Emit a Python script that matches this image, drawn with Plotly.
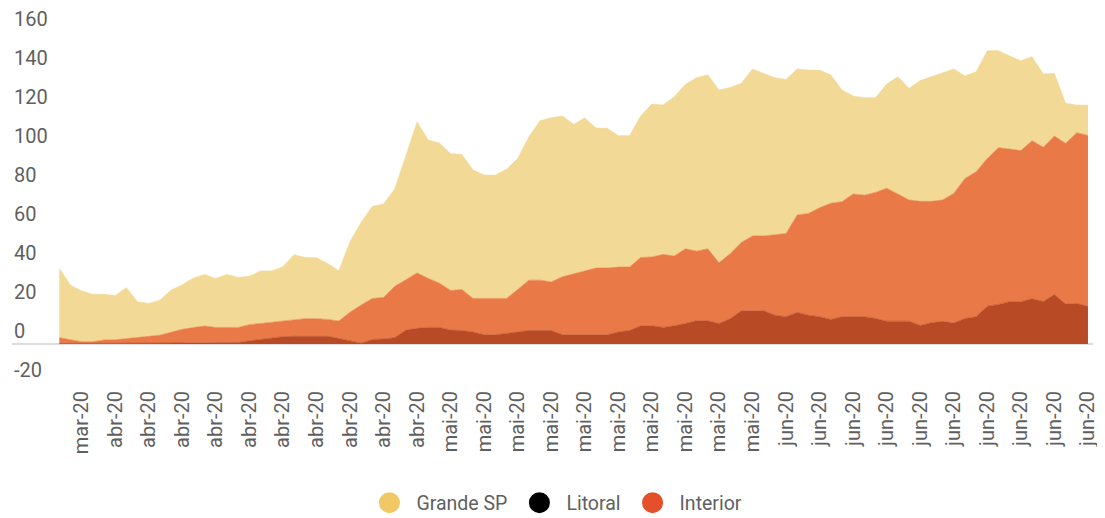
import pandas as pd
import plotly.graph_objects as go

# ---- data (daily values, 29 Mar 2020 -> 29 Jun 2020) ----
start_date = "2020-03-29"
n_days = 93

litoral = [0.3, 0.3, 0.3, 0.3, 0.3, 0.3, 0.3, 0.3, 0.4, 0.4,
           0.5, 0.6, 0.7, 0.7, 0.7, 0.7, 0.8, 1.7, 2.4, 3.0,
           3.8, 4.0, 4.0, 4.0, 4.0, 2.9, 1.5, 0.5, 2.4, 2.6,
           3.3, 7.2, 8.1, 8.6, 8.6, 7.2, 7.0, 6.2, 4.8, 4.8,
           5.5, 6.3, 7.0, 7.0, 7.0, 4.8, 4.8, 4.8, 4.8, 4.8,
           6.2, 7.0, 9.4, 9.4, 8.6, 9.4, 10.6, 12.0, 12.0, 10.6,
           13.0, 17.1, 17.1, 17.1, 14.9, 14.1, 16.3, 14.9, 14.1, 12.7,
           14.1, 14.1, 14.1, 13.2, 11.8, 11.8, 11.8, 9.6, 11.0, 11.7,
           10.8, 13.2, 14.1, 19.5, 20.4, 21.8, 21.8, 23.3, 21.9, 25.5,
           20.6, 20.9, 19.5]

interior = [3.0, 2.1, 0.9, 0.9, 1.8, 1.9, 2.6, 3.3, 3.6, 4.2,
            5.8, 7.0, 7.8, 8.6, 7.9, 7.9, 7.8, 8.3, 8.2, 8.0,
            7.8, 8.3, 9.1, 9.1, 8.7, 9.0, 14.9, 19.6, 21.1, 21.4,
            26.4, 25.9, 28.5, 25.2, 22.7, 20.4, 21.1, 17.3, 18.7, 18.7,
            18.0, 21.8, 25.9, 25.9, 25.0, 29.8, 31.2, 32.8, 34.3, 34.3,
            33.4, 32.6, 35.2, 35.4, 37.5, 35.9, 38.4, 35.8, 37.0, 31.2,
            33.5, 35.2, 38.5, 38.5, 41.5, 42.8, 50.1, 52.3, 56.0, 59.7,
            59.1, 63.1, 62.5, 64.8, 68.4, 65.4, 62.3, 63.8, 62.4, 62.4,
            66.7, 72.0, 74.5, 76.0, 80.6, 78.5, 77.7, 81.3, 79.3, 81.5,
            82.6, 87.8, 87.8]

grande_sp = [35.6, 27.9, 26.1, 24.5, 23.5, 22.8, 26.1, 18.2, 16.9, 18.0,
             21.5, 22.9, 25.5, 26.5, 25.1, 27.2, 25.7, 24.9, 27.0, 26.6,
             28.2, 33.7, 31.4, 31.3, 28.8, 25.8, 36.2, 42.6, 47.4, 48.0,
             50.1, 63.7, 77.6, 71.1, 72.1, 70.3, 69.5, 66.0, 63.4, 63.4,
             66.4, 67.4, 73.7, 82.0, 84.4, 82.7, 77.0, 78.7, 72.0, 71.9,
             67.6, 67.6, 72.7, 78.7, 76.8, 81.9, 84.6, 89.2, 89.5, 88.9,
             85.4, 81.8, 85.9, 83.6, 80.6, 79.2, 75.1, 73.7, 70.8, 66.0,
             57.5, 50.4, 50.1, 48.7, 53.5, 60.3, 57.4, 62.1, 64.1, 65.1,
             64.0, 52.7, 51.5, 55.4, 49.9, 47.8, 46.2, 43.2, 37.7, 32.2,
             20.6, 14.2, 15.6]

tick_labels = (["mar-20"] + ["abr-20"] * 10 + ["mai-20"] * 10 + ["jun-20"] * 10)
y_ticks = [-20, 0, 20, 40, 60, 80, 100, 120, 140, 160]

series_names = ["Grande SP", "Litoral", "Interior"]
legend_colors = ["#F0C865", "#000000", "#E5502A"]
fill_colors = {"Litoral": "#B84B26", "Interior": "#E97947", "Grande SP": "#F3D996"}

dates = pd.date_range(start_date, periods=n_days, freq="D")
tick_vals = list(dates[2::3])

FONT = "Roboto, 'Noto Sans', sans-serif"
GREY = "#5f5f5f"
FS = 20

fig = go.Figure()
for name, vals in [("Litoral", litoral), ("Interior", interior), ("Grande SP", grande_sp)]:
    fig.add_trace(go.Scatter(
        x=dates, y=vals, name=name, stackgroup="one", mode="lines",
        line=dict(width=0.6, color=fill_colors[name]),
        fillcolor=fill_colors[name], showlegend=False, hoverinfo="x+y+name",
    ))

for name, col in zip(series_names, legend_colors):
    fig.add_trace(go.Scatter(
        x=[None], y=[None], name=name, mode="markers",
        marker=dict(size=16, color=col, line=dict(width=5, color=col)),
        showlegend=True,
    ))

# y-axis labels sit left-aligned just above their value line
for v in y_ticks:
    fig.add_annotation(
        x=0, xref="paper", xanchor="left",
        y=v, yref="y", yanchor="middle", yshift=13.5,
        text=str(v), showarrow=False,
        font=dict(size=FS, color=GREY, family=FONT),
    )

x0 = dates[0] - pd.Timedelta(hours=4.23 * 24)
x1 = dates[-1] + pd.Timedelta(hours=0.45 * 24)

# the page body has an 8px margin, so the figure is sized to the remaining window
W, H = 1097, 510
fig.update_layout(
    width=W, height=H, autosize=False,
    margin=dict(l=4, r=12, t=0, b=135, pad=0, autoexpand=False),
    paper_bgcolor="white", plot_bgcolor="white",
    font=dict(family=FONT, size=FS, color=GREY),
    legend=dict(orientation="h", x=0.4986, xanchor="center", xref="container",
                y=(H - 495) / H, yanchor="middle", yref="container",
                traceorder="normal",
                font=dict(size=19.5, color=GREY), itemwidth=44),
    xaxis=dict(range=[x0, x1], tickvals=tick_vals, ticktext=tick_labels,
               tickangle=-90, showgrid=False, zeroline=False, showline=False,
               ticks="", ticklabelstandoff=3, tickfont=dict(size=FS, color=GREY)),
    yaxis=dict(range=[-20, 172.84], tickvals=y_ticks, showgrid=False,
               zeroline=True, zerolinecolor="#dcdcdc", zerolinewidth=2,
               showticklabels=False, ticks="", showline=False),
)

fig.write_html("out.html")
